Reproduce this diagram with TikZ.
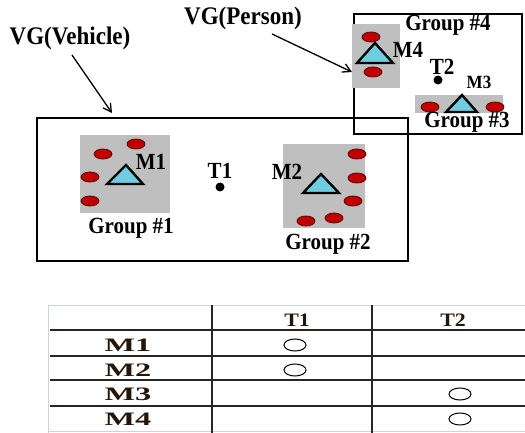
\documentclass[tikz,border=0pt]{standalone}
\usepackage{fontspec}
\setmainfont{Liberation Serif}
\usetikzlibrary{arrows.meta}
\definecolor{grp}{RGB}{191,191,191}
\definecolor{redm}{RGB}{192,0,0}
\definecolor{redline}{RGB}{90,0,0}
\definecolor{cyanm}{RGB}{110,205,225}
\definecolor{tabtxt}{RGB}{35,22,8}
\definecolor{tabfaint}{RGB}{200,212,228}
\begin{document}
\begin{tikzpicture}[x=1pt,y=-1pt,
  lbl/.style={font=\bfseries\fontsize{21}{21}\selectfont, inner sep=0pt, yscale=1.1},
  smlbl/.style={font=\bfseries\fontsize{17}{17}\selectfont, inner sep=0pt, yscale=1.1},
  vglbl/.style={font=\bfseries\fontsize{23}{23}\selectfont, inner sep=0pt, yscale=1.1},
  grpbox/.style={fill=grp, draw=none},
  member/.style={fill=redm, draw=redline, line width=0.8pt},
  master/.style={fill=cyanm, draw=black, line width=2.4pt, line join=miter},
  vgbox/.style={draw=black, line width=2.5pt},
  conn/.style={draw=black, line width=1.3pt, -{Straight Barb[length=8pt,width=9pt,line width=1.3pt]}},
  tdot/.style={fill=black},
  rowlbl/.style={font=\bfseries\fontsize{19}{19}\selectfont, text=tabtxt, inner sep=0pt, xscale=1.7},
  collbl/.style={font=\bfseries\fontsize{19}{19}\selectfont, text=tabtxt, inner sep=0pt, xscale=1.15},
  tickmark/.style={draw=black, line width=1pt},
  hline/.style={draw=black!85, line width=1.3pt},
  vline/.style={draw=black!85, line width=1.6pt},
  fline/.style={draw=tabfaint, line width=1pt}]
\useasboundingbox (0,0) rectangle (525,433);

% ---------- VG(Vehicle) box ----------
\draw[vgbox] (37,118) rectangle (408,261);
% Group #1
\path[grpbox] (80,135) rectangle (170,213);
\path[member] (136,144) ellipse [x radius=9, y radius=5];
\path[member] (103,154) ellipse [x radius=9, y radius=5];
\path[member] (90,177) ellipse [x radius=9, y radius=5];
\path[member] (90,201) ellipse [x radius=9, y radius=5];
\draw[master] (126,165) -- (107,184) -- (143,184) -- cycle;
\node[lbl] (m1) at (151,162) {M1};
\node[lbl] (g1) at (131,228) {Group \#1};
% T1
\node[lbl] (t1) at (220,171) {T1};
\path[tdot] (220,187) circle [radius=4.5];
% Group #2
\path[grpbox] (283,144) rectangle (365,228);
\path[member] (357,154) ellipse [x radius=9, y radius=5];
\path[member] (357,178) ellipse [x radius=9, y radius=5];
\path[member] (353,201) ellipse [x radius=9, y radius=5];
\path[member] (334,218) ellipse [x radius=9, y radius=5];
\path[member] (306,221) ellipse [x radius=9, y radius=5];
\draw[master] (321,174) -- (303,193) -- (339,193) -- cycle;
\node[lbl] (m2) at (287,172) {M2};
\node[lbl] (g2) at (328,244) {Group \#2};

% ---------- VG(Person) box ----------
\draw[vgbox] (354,14) rectangle (522,134);
% Group #4
\path[grpbox] (352,24) rectangle (400,88);
\path[member] (371,37) ellipse [x radius=9, y radius=5];
\path[member] (373,72) ellipse [x radius=9, y radius=5];
\draw[master] (375,43) -- (357,63) -- (393,63) -- cycle;
\node[lbl] (m4) at (408,50) {M4};
\node[lbl] (g4) at (448,25) {Group \#4};
% T2
\node[lbl] (t2) at (442,67) {T2};
\path[tdot] (438,80) circle [radius=4.5];
% Group #3
\path[grpbox] (415,95) rectangle (503,113);
\path[member] (430,107) ellipse [x radius=9, y radius=5];
\path[member] (495,107) ellipse [x radius=9, y radius=5];
\draw[master] (462,95) -- (446,112) -- (477,112) -- cycle;
\node[smlbl] (m3) at (479,82) {M3};
\node[lbl] (g3) at (467,122) {Group \#3};

% ---------- titles and arrows ----------
\node[vglbl] (vgv) at (70,38) {VG(Vehicle)};
\node[vglbl] (vgp) at (243,18) {VG(Person)};
\coordinate (a1s) at (72,55);
\coordinate (a1e) at (112,113);
\coordinate (a2s) at (272,34);
\coordinate (a2e) at (352,72);
\draw[conn] (a1s) -- (a1e);
\draw[conn] (a2s) -- (a2e);

% ---------- table ----------
\draw[fline] (48,305) -- (525,305);
\draw[fline] (48,431) -- (525,431);
\draw[fline] (48,305) -- (48,433);
\foreach \yy in {330,356,380,406} \draw[hline] (50,\yy) -- (525,\yy);
\draw[vline] (212,305) -- (212,433);
\draw[vline] (372,305) -- (372,433);
\node[collbl] (h1) at (297,320) {T1};
\node[collbl] (h2) at (453,320) {T2};
\node[rowlbl] (r1) at (128,345) {M1};
\node[rowlbl] (r2) at (128,370) {M2};
\node[rowlbl] (r3) at (128,394) {M3};
\node[rowlbl] (r4) at (128,419) {M4};
\path[tickmark] (295,345) ellipse [x radius=11, y radius=6];
\path[tickmark] (295,370) ellipse [x radius=11, y radius=6];
\path[tickmark] (460,394) ellipse [x radius=11, y radius=6];
\path[tickmark] (460,419) ellipse [x radius=11, y radius=6];
\end{tikzpicture}
\end{document}
